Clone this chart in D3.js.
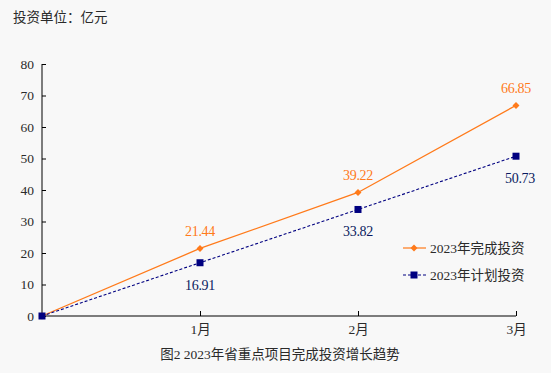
<!DOCTYPE html>
<html><head><meta charset="utf-8">
<script src="https://cdn.jsdelivr.net/npm/d3@7"></script>
<style>
html,body{margin:0;padding:0;background:#f8f8f8;}
svg{display:block;}
text{font-family:"Liberation Serif","DejaVu Serif","Noto Sans CJK SC",serif;}
</style></head><body>
<svg id="c" width="551" height="373"></svg>
<script>
const categories = ["", "1月", "2月", "3月"];
const completed = [0, 21.44, 39.22, 66.85];
const planned = [0, 16.91, 33.82, 50.73];
const yTicks = [0, 10, 20, 30, 40, 50, 60, 70, 80];
const seriesNames = ["2023年完成投资", "2023年计划投资"];
const unitLabel = "投资单位：亿元";
const caption = "图2 2023年省重点项目完成投资增长趋势";

const svg = d3.select("#c");
const orange = "#ff7a1a", navy = "#000080", textColor = "#2a2a2a";
const x = d3.scalePoint().domain(d3.range(categories.length)).range([42, 516]);
const y = d3.scaleLinear().domain([0, 80]).range([316, 64]);

svg.append("rect").attr("width",551).attr("height",373).attr("fill","#f8f8f8");

svg.append("text").attr("x",13).attr("y",22).attr("font-size",13.5).attr("fill",textColor).text(unitLabel);

// Y axis
const ya = svg.append("g").attr("transform","translate(42,0)")
  .call(d3.axisRight(y).tickValues(yTicks).tickSize(4).tickFormat(d3.format("d")));
ya.select(".domain").attr("stroke","#000").attr("d","M0,64V316");
ya.selectAll(".tick line").attr("stroke","#000");
ya.selectAll(".tick text").attr("x",-8).attr("text-anchor","end").attr("font-size",13.5).attr("fill",textColor)
  .attr("font-family","'Liberation Serif',serif");

// X axis
const xa = svg.append("g").attr("transform","translate(0,316)")
  .call(d3.axisTop(x).tickValues([1,2,3]).tickSize(5).tickFormat(i=>categories[i]));
xa.select(".domain").attr("stroke","#000").attr("d","M42,0H516");
xa.selectAll(".tick line").attr("stroke","#000");
xa.selectAll(".tick text").attr("y",18).attr("dy","0").attr("font-size",13.5).attr("fill",textColor);

const line = d3.line().x((d,i)=>x(i)).y(d=>y(d));

svg.append("path").datum(completed).attr("d",line).attr("fill","none").attr("stroke",orange).attr("stroke-width",1.3);
svg.append("path").datum(planned).attr("d",line).attr("fill","none").attr("stroke",navy).attr("stroke-width",1.1).attr("stroke-dasharray","3,2");

const diamond = d3.symbol().type(d3.symbolSquare).size(24);
svg.append("g").selectAll("path").data(completed).join("path")
  .attr("d",diamond).attr("transform",(d,i)=>`translate(${x(i)},${y(d)}) rotate(45)`).attr("fill",orange);
svg.append("g").selectAll("rect").data(planned).join("rect")
  .attr("x",(d,i)=>x(i)-3.5).attr("y",d=>y(d)-3.5).attr("width",7).attr("height",7).attr("fill",navy);

// data labels
const lblFont = "'Liberation Sans','Arial',sans-serif";
svg.append("g").selectAll("text").data(completed.slice(1)).join("text")
  .attr("x",(d,i)=>x(i+1)).attr("y",d=>y(d)-12).attr("text-anchor","middle")
  .attr("font-size",14).attr("fill",orange).attr("font-family",lblFont).attr("letter-spacing","-0.3")
  .text(d=>d.toFixed(2));
svg.append("g").selectAll("text").data(planned.slice(1)).join("text")
  .attr("x",(d,i)=>x(i+1)+(i===2?4:0)).attr("y",d=>y(d)+27).attr("text-anchor","middle")
  .attr("font-size",14).attr("fill","#0a1a60").attr("font-family",lblFont).attr("letter-spacing","-0.3")
  .text(d=>d.toFixed(2));

// legend
const lg = svg.append("g");
[[orange,null,248],[navy,"3,2",275]].forEach((s,k)=>{
  const yy = s[2];
  lg.append("line").attr("x1",403).attr("x2",426).attr("y1",yy).attr("y2",yy)
    .attr("stroke",s[0]).attr("stroke-width",1.2).attr("stroke-dasharray",s[1]);
  if(k===0) lg.append("path").attr("d",diamond).attr("transform",`translate(414,${yy}) rotate(45)`).attr("fill",orange);
  else lg.append("rect").attr("x",410.5).attr("y",yy-3.5).attr("width",7).attr("height",7).attr("fill",navy);
  lg.append("text").attr("x",430).attr("y",yy+4.5).attr("font-size",13.5).attr("fill",textColor).text(seriesNames[k]);
});

svg.append("text").attr("x",280).attr("y",359).attr("text-anchor","middle").attr("font-size",13.5).attr("fill",textColor).text(caption);
</script>
</body></html>
